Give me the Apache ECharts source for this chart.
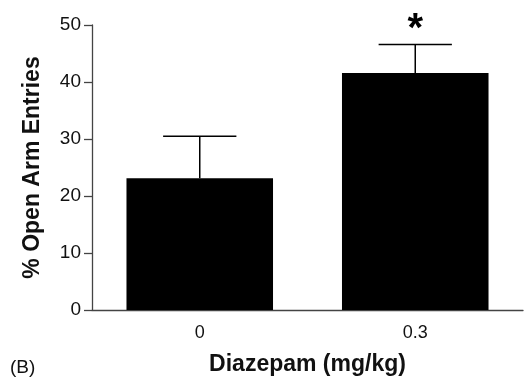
<!DOCTYPE html>
<html><head><meta charset="utf-8">
<script src="https://cdn.jsdelivr.net/npm/echarts@6/dist/echarts.min.js"></script>
<style>html,body{margin:0;padding:0;background:#fff}#c{width:524px;height:381px}</style>
</head><body><div id="c"></div>
<script>
const categories = ['0', '0.3'];
const means = [23.1, 41.6];
const sem = [7.4, 5.0];
const marks = ['', '*'];
const yTicks = [0, 10, 20, 30, 40, 50];

const chart = echarts.init(document.getElementById('c'), null, {renderer: 'canvas'});
const FONT = '"Liberation Sans", Arial, sans-serif';
chart.setOption({
  animation: false,
  grid: {left: 92, right: 1, top: 25, bottom: 66},
  xAxis: {
    type: 'category', data: categories,
    axisLine: {lineStyle: {color: '#444', width: 1.3}},
    axisTick: {show: false},
    axisLabel: {fontFamily: FONT, fontSize: 18, color: '#111', margin: 14},
    name: 'Diazepam (mg/kg)', nameLocation: 'middle', nameGap: 43,
    nameTextStyle: {fontFamily: FONT, fontSize: 23, fontWeight: 'bold', color: '#111'}
  },
  yAxis: {
    type: 'value', min: yTicks[0], max: yTicks[yTicks.length - 1], interval: 10,
    axisLine: {show: true, lineStyle: {color: '#444', width: 1.3}},
    axisTick: {show: true, length: 8, lineStyle: {color: '#444', width: 1.3}},
    splitLine: {show: false},
    axisLabel: {fontFamily: FONT, fontSize: 19, color: '#111', margin: 11},
    name: '% Open Arm Entries', nameLocation: 'middle', nameGap: 48,
    nameTextStyle: {fontFamily: FONT, fontSize: 23, fontWeight: 'bold', color: '#111'}
  },
  graphic: [{type: 'text', left: 10, top: 358, style: {text: '(B)', font: '19px ' + FONT, fill: '#111'}}],
  series: [
    {type: 'bar', data: means, barWidth: '68%', itemStyle: {color: '#000'}},
    {
      type: 'custom', z: 1,
      data: means.map((m, i) => [i, m, sem[i], marks[i]]),
      renderItem: function (params, api) {
        const i = api.value(0), m = api.value(1), e = api.value(2);
        const base = api.coord([i, m]);
        const top = api.coord([i, m + e]);
        const hw = api.size([1, 0])[0] * 0.17;
        const children = [
          {type: 'line', shape: {x1: base[0], y1: base[1], x2: top[0], y2: top[1]}, style: {stroke: '#000', lineWidth: 1.5}},
          {type: 'line', shape: {x1: top[0] - hw, y1: top[1], x2: top[0] + hw, y2: top[1]}, style: {stroke: '#000', lineWidth: 1.5}}
        ];
        const mk = marks[params.dataIndex];
        if (mk) {
          children.push({type: 'text', style: {text: mk, x: top[0], y: top[1] + 6, align: 'center', verticalAlign: 'bottom', font: 'bold 40px ' + FONT, fill: '#000'}});
        }
        return {type: 'group', children: children};
      }
    }
  ]
});
</script></body></html>
